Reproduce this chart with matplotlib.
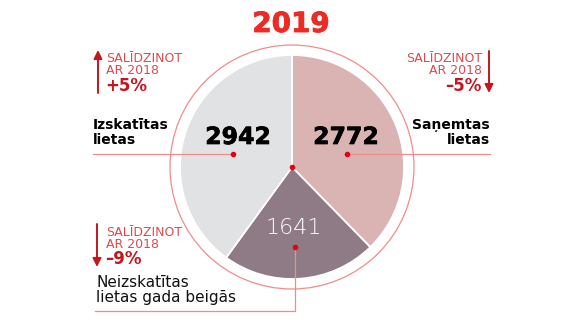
import matplotlib
matplotlib.use("Agg")
import matplotlib.pyplot as plt
import matplotlib.patheffects as pe
from matplotlib.patches import Circle

# Data
labels = ["Saņemtas\nlietas", "Neizskatītas\nlietas gada beigās", "Izskatītas\nlietas"]
values = [2772, 1641, 2942]
changes = ["–5%", "–9%", "+5%"]
slice_colors = ["#d9b4b3", "#8f7b86", "#e1e2e4"]
year = "2019"
compare_text = "SALĪDZINOT\nAR 2018"

W, H = 588, 326
RED = "#ee2a24"
DARK_RED = "#c5161d"
LINE = "#f28b8b"
FONT = ["DejaVu Sans"]

fig = plt.figure(figsize=(W / 100, H / 100), dpi=100)
ax = fig.add_axes([0, 0, 1, 1])


def Y(y):
    return H - y


def heavy(color, w=0.5):
    return [pe.withStroke(linewidth=w, foreground=color)]


cx, cy = 292, Y(167)
R = 112

ax.pie(values, colors=slice_colors, startangle=90, counterclock=False,
       center=(cx, cy), radius=R,
       wedgeprops=dict(edgecolor="white", linewidth=1.3))
ax.set_xlim(0, W)
ax.set_ylim(0, H)
ax.set_aspect("equal")
ax.axis("off")
ax.add_patch(Circle((cx, cy), 122, fill=False, edgecolor=LINE, lw=0.9))

# Title
ax.text(291, Y(24), year, color=RED, fontsize=20, fontweight="bold",
        family=FONT, ha="center", va="center", path_effects=heavy(RED, 0.6))

# Leader lines
ax.plot([93, 233], [Y(154), Y(154)], color=LINE, lw=0.9)
ax.plot([347, 490], [Y(154), Y(154)], color=LINE, lw=0.9)
ax.plot([295, 295, 95], [Y(247), Y(311), Y(311)], color=LINE, lw=0.9)

# Center and label dots
for (x, y) in [(292, 167), (233, 154), (347, 154), (295, 247)]:
    ax.plot(x, Y(y), "o", color="#e3000f", ms=4, mec="none")

# Values inside slices
ax.text(238, Y(137), f"{values[2]}", fontsize=17, fontweight="bold",
        family=FONT, ha="center", va="center", color="black",
        path_effects=heavy("black"))
ax.text(346, Y(137), f"{values[0]}", fontsize=17, fontweight="bold",
        family=FONT, ha="center", va="center", color="black",
        path_effects=heavy("black"))
ax.text(294, Y(228), f"{values[1]}", fontsize=16, fontweight="light",
        family=FONT, ha="center", va="center", color="white")

# Category labels
ax.text(93, Y(118), labels[2], fontsize=10, fontweight="bold", family=FONT,
        ha="left", va="top", linespacing=1.05, color="black")
ax.text(490, Y(118), labels[0], fontsize=10, fontweight="bold", family=FONT,
        ha="right", va="top", linespacing=1.05, color="black", multialignment="right")
ax.text(96, Y(275), labels[1], fontsize=11, fontweight="normal", family=FONT,
        ha="left", va="top", linespacing=1.0, color="#111111")

# Year-over-year comparisons
arrow = dict(arrowstyle="-|>,head_length=0.5,head_width=0.25", color=DARK_RED, lw=1.4,
             shrinkA=0, shrinkB=0)
small = dict(fontsize=9, color="#dc4a4f", family=FONT, va="top", linespacing=0.95)
big = dict(fontsize=12, color=DARK_RED, family=FONT, fontweight="bold", va="center")

# Izskatītas: up
ax.annotate("", xy=(98, Y(50)), xytext=(98, Y(93)), arrowprops=arrow)
ax.text(106, Y(52), compare_text, ha="left", **small)
ax.text(105, Y(86), changes[2], ha="left", **big)

# Saņemtas: down
ax.annotate("", xy=(489, Y(93)), xytext=(489, Y(51)), arrowprops=arrow)
ax.text(482, Y(52), compare_text, ha="right", multialignment="right", **small)
ax.text(482, Y(86), changes[0], ha="right", **big)

# Neizskatītas: down
ax.annotate("", xy=(97, Y(267)), xytext=(97, Y(224)), arrowprops=arrow)
ax.text(106, Y(226), compare_text, ha="left", **small)
ax.text(105, Y(259), changes[1], ha="left", **big)

fig.savefig("out.png", dpi=100, facecolor="white")
